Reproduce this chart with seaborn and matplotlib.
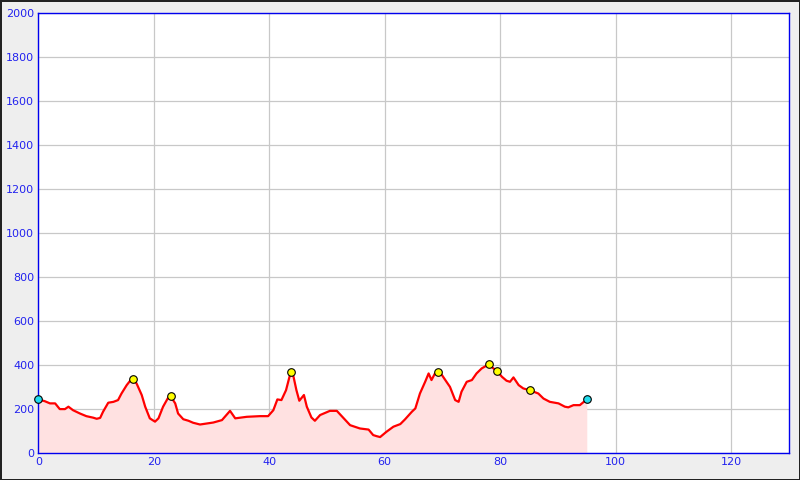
import numpy as np
import pandas as pd
import seaborn as sns
import matplotlib.pyplot as plt

# Elevation profile (distance in km, elevation in m)
km = [0, 1.1, 2.0, 2.9, 3.7, 4.6, 5.2, 6.0, 7.2, 8.3,
      9.5, 10.1, 10.7, 11.2, 12.1, 13.0, 13.8, 14.4, 15.3, 15.9,
      16.4, 17.0, 17.9, 18.5, 19.3, 20.2, 20.8, 21.6, 22.5, 22.9,
      23.7, 24.2, 25.1, 26.0, 26.8, 28.0, 30.3, 31.8, 33.2, 34.1,
      36.1, 38.4, 39.8, 40.7, 41.4, 42.1, 42.9, 43.5, 43.8, 44.2,
      44.7, 45.2, 46.0, 46.5, 47.3, 47.9, 48.8, 50.5, 51.7, 54.0,
      55.7, 57.2, 58.0, 58.6, 59.2, 60.3, 61.5, 62.7, 63.5, 64.7,
      65.3, 66.1, 67.0, 67.6, 68.1, 68.7, 69.3, 69.9, 70.7, 71.3,
      72.2, 72.8, 73.3, 74.2, 75.1, 75.9, 76.8, 78.0, 78.5, 79.5,
      80.3, 81.1, 81.7, 82.3, 83.2, 84.0, 85.2, 86.6, 87.5, 88.6,
      90.1, 91.2, 91.8, 92.7, 93.8, 95.0]
elev = [244, 236, 226, 226, 200, 200, 211, 195, 180, 168,
        161, 156, 160, 188, 229, 233, 241, 271, 309, 329,
        335, 317, 264, 211, 158, 143, 158, 211, 253, 259,
        226, 180, 154, 147, 138, 130, 139, 150, 192, 158,
        165, 168, 168, 195, 244, 241, 286, 347, 367, 347,
        286, 238, 264, 211, 162, 147, 173, 192, 192, 127,
        112, 107, 82, 77, 73, 97, 120, 132, 153, 188,
        203, 271, 324, 362, 332, 362, 367, 355, 324, 301,
        241, 233, 279, 324, 332, 362, 385, 403, 392, 371,
        347, 329, 324, 344, 309, 294, 285, 271, 248, 233,
        226, 211, 208, 218, 218, 244]

# Waypoints (yellow) and start/end (cyan)
peak_km = [16.4, 22.9, 43.8, 69.3, 78.0, 79.5, 85.2]
peak_elev = [335, 259, 367, 367, 403, 371, 285]
end_km = [0, 95.0]
end_elev = [244, 244]

df = pd.DataFrame({"km": km, "elev": elev})

sns.set_style("white")
plt.rcParams['font.family'] = ['DejaVu Sans']

fig = plt.figure(figsize=(8, 4.8), dpi=100, facecolor='#eeeeee',
                 edgecolor='#222222', linewidth=1.0)
ax = fig.add_axes([0.048, 0.056, 0.938, 0.917])
ax.set_facecolor('white')

ax.fill_between(df["km"], df["elev"], 0, color='#ffe1e1', linewidth=0, zorder=1)
sns.lineplot(data=df, x="km", y="elev", ax=ax, color='red', linewidth=1.6,
             sort=False, zorder=3)
sns.scatterplot(x=peak_km, y=peak_elev, ax=ax, color='#ffff00', edgecolor='black',
                linewidth=0.8, s=30, zorder=4)
sns.scatterplot(x=end_km, y=end_elev, ax=ax, color='#22ddee', edgecolor='black',
                linewidth=0.8, s=30, zorder=4, clip_on=False)

ax.set_xlim(0, 130)
ax.set_ylim(0, 2000)
ax.set_xticks(np.arange(0, 121, 20))
ax.set_yticks(np.arange(0, 2001, 200))
ax.grid(True, color='#c8c8c8', linewidth=0.9)
ax.set_axisbelow(True)
ax.set_xlabel("")
ax.set_ylabel("")

for s in ax.spines.values():
    s.set_color('#0000ee')
    s.set_linewidth(1.0)
ax.tick_params(axis='both', direction='in', length=4, width=1, color='#0000ee',
               labelcolor='#2222ee', labelsize=8, pad=3)

plt.savefig("out.png", dpi=100)
